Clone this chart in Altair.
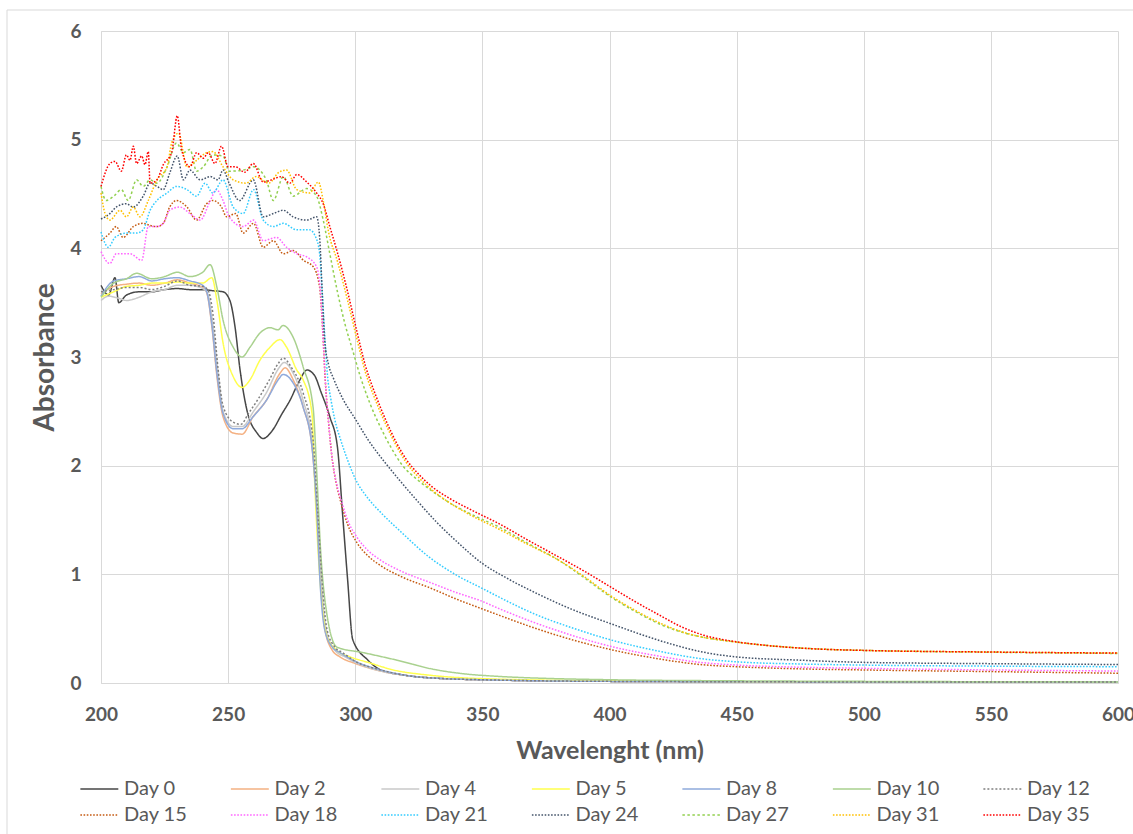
import altair as alt
import pandas as pd

# UV-Vis absorbance spectra, one list of (wavelength nm, absorbance) per sampling day
day_0 = [(200, 3.66), (203, 3.57), (205.5, 3.73), (207, 3.50), (210, 3.57), (215, 3.60), (220, 3.60),
         (225, 3.62), (230, 3.63), (235, 3.62), (240, 3.62), (244, 3.61), (248, 3.60), (250.7, 3.52),
         (252.7, 3.28), (254.7, 2.88), (257.4, 2.51), (261.4, 2.30), (263.7, 2.25), (267.6, 2.33),
         (271, 2.47), (274.3, 2.60), (278, 2.78), (281, 2.88), (284, 2.83), (286.5, 2.68), (290, 2.45),
         (293, 2.17), (295, 1.56), (297, 0.95), (299, 0.40), (305, 0.21), (310, 0.12), (320, 0.07),
         (335, 0.04), (350, 0.03), (400, 0.015), (500, 0.01), (600, 0.01)]
day_2 = [(200, 3.58), (205, 3.65), (210, 3.67), (215, 3.68), (220, 3.66), (225, 3.68), (230, 3.71),
         (235, 3.68), (240, 3.64), (241.6, 3.59), (243.6, 3.28), (245.6, 2.82), (248, 2.45), (252, 2.30),
         (255.5, 2.29), (259.8, 2.45), (265, 2.60), (270.4, 2.85), (272.4, 2.90), (275.6, 2.79),
         (279.5, 2.54), (283, 2.17), (285, 1.56), (286.5, 0.95), (288, 0.50), (291, 0.30), (294, 0.24),
         (300, 0.18), (310, 0.11), (320, 0.07), (335, 0.04), (350, 0.03), (400, 0.015), (500, 0.01), (600, 0.01)]
day_4 = [(200, 3.52), (203, 3.56), (207, 3.54), (210, 3.52), (215, 3.55), (220, 3.60), (225, 3.62),
         (230, 3.66), (235, 3.66), (240, 3.63), (242, 3.58), (244, 3.30), (246, 2.86), (248, 2.50),
         (252, 2.36), (255.5, 2.36), (260, 2.50), (265, 2.67), (270, 2.90), (272, 2.95), (275.6, 2.85),
         (279.5, 2.60), (283, 2.22), (285, 1.58), (286.5, 0.97), (288.5, 0.50), (292, 0.30), (296, 0.24),
         (300, 0.19), (310, 0.11), (320, 0.07), (335, 0.04), (350, 0.03), (400, 0.015), (500, 0.01), (600, 0.01)]
day_5 = [(200, 3.55), (205, 3.60), (210, 3.65), (215, 3.66), (220, 3.68), (225, 3.68), (230, 3.69),
         (235, 3.68), (240, 3.68), (243.6, 3.73), (245.6, 3.52), (248, 3.13), (252, 2.82), (255.5, 2.72),
         (258.6, 2.79), (262.5, 2.97), (266.5, 3.09), (270.4, 3.16), (273, 3.09), (277, 2.88),
         (279.5, 2.79), (283, 2.48), (284, 1.87), (285.3, 1.25), (287.3, 0.64), (289, 0.42), (292.8, 0.30),
         (298, 0.24), (305, 0.19), (315, 0.12), (330, 0.07), (350, 0.04), (400, 0.02), (500, 0.01), (600, 0.01)]
day_8 = [(200, 3.56), (205, 3.70), (210, 3.72), (215, 3.74), (220, 3.70), (225, 3.72), (230, 3.73),
         (235, 3.70), (240, 3.66), (241.6, 3.60), (243.6, 3.30), (245.6, 2.85), (248, 2.48), (252, 2.34),
         (255.5, 2.34), (259.8, 2.45), (265, 2.60), (270, 2.80), (271.6, 2.84), (275.6, 2.76),
         (279.5, 2.54), (283, 2.17), (284.9, 1.56), (286.1, 0.95), (288, 0.49), (291, 0.33), (294, 0.28),
         (300, 0.20), (310, 0.12), (320, 0.07), (335, 0.04), (350, 0.03), (400, 0.015), (500, 0.01), (600, 0.01)]
day_10 = [(200, 3.55), (205, 3.68), (210, 3.72), (214, 3.77), (220, 3.72), (225, 3.74), (230, 3.78),
          (235, 3.74), (240, 3.78), (242.9, 3.85), (245.6, 3.64), (248, 3.34), (252, 3.09), (255.5, 3.00),
          (258.6, 3.09), (262.5, 3.22), (266.5, 3.27), (269.6, 3.25), (271.6, 3.29), (275.6, 3.18),
          (279.5, 2.91), (283.4, 2.54), (285, 1.87), (286.3, 1.25), (288.8, 0.64), (292.8, 0.33),
          (303, 0.28), (316.4, 0.21), (330, 0.13), (350, 0.07), (400, 0.03), (450, 0.02), (500, 0.015), (600, 0.01)]
day_12 = [(200, 3.60), (205, 3.62), (210, 3.64), (215, 3.64), (220, 3.62), (225, 3.65), (230, 3.70),
          (235, 3.66), (240, 3.65), (242, 3.62), (244, 3.40), (246, 2.90), (248, 2.55), (252, 2.40),
          (255, 2.38), (258, 2.48), (262, 2.62), (266, 2.78), (270, 2.95), (271.6, 2.99), (275, 2.90),
          (279.5, 2.67), (283.4, 2.24), (285.3, 1.56), (286.9, 0.95), (288.9, 0.49), (292, 0.33),
          (295, 0.28), (300, 0.20), (310, 0.12), (320, 0.07), (335, 0.04), (350, 0.03), (400, 0.015), (500, 0.01), (600, 0.01)]
day_15 = [(200, 4.07), (203.5, 4.14), (206, 4.20), (208.7, 4.10), (212.7, 4.20), (216.6, 4.23), (219.3, 4.21),
          (222, 4.20), (224.5, 4.23), (227, 4.38), (229.7, 4.44), (233.8, 4.38), (237.6, 4.26), (241.5, 4.41),
          (244, 4.44), (247.4, 4.38), (249.4, 4.29), (253, 4.32), (255.9, 4.14), (260, 4.23), (263.8, 4.01),
          (267.8, 4.07), (271.7, 3.95), (275.6, 3.98), (279.6, 3.89), (283.5, 3.83), (286, 3.64), (287.2, 3.25),
          (288.2, 2.79), (289.5, 2.40), (291, 2.05), (292.5, 1.84), (294.5, 1.65), (297, 1.46), (300.7, 1.29),
          (305, 1.17), (310, 1.08), (318, 0.98), (330, 0.87), (340, 0.77), (349, 0.69), (357, 0.62),
          (370, 0.51), (385, 0.40), (400, 0.31), (420, 0.22), (435.6, 0.17), (450, 0.15), (475, 0.13),
          (500, 0.12), (550, 0.105), (600, 0.09)]
day_18 = [(200, 3.97), (203.5, 3.86), (206, 3.95), (211.4, 3.95), (216, 3.89), (218.6, 4.20), (222, 4.20),
          (224.5, 4.23), (227, 4.35), (231, 4.38), (235, 4.32), (239, 4.26), (243, 4.44), (245.4, 4.54),
          (248, 4.44), (250.4, 4.29), (255.9, 4.20), (260, 4.26), (263.8, 4.07), (269, 4.10), (273, 4.01),
          (277, 3.95), (281, 3.92), (284.8, 3.83), (286.3, 3.60), (287.3, 3.20), (288.2, 2.79), (289.5, 2.40),
          (291, 2.05), (292.5, 1.85), (294.5, 1.68), (297, 1.50), (300.7, 1.34), (305, 1.22), (310, 1.13),
          (318, 1.03), (330, 0.92), (340, 0.83), (349, 0.76), (357, 0.68), (370, 0.56), (385, 0.44),
          (400, 0.34), (420, 0.245), (435.6, 0.19), (450, 0.165), (475, 0.145), (500, 0.135), (550, 0.12), (600, 0.11)]
day_21 = [(200, 4.15), (202.9, 4.01), (205.5, 4.10), (210, 4.14), (214, 4.14), (216.6, 4.17), (219.3, 4.35),
          (222, 4.44), (226, 4.51), (229.7, 4.57), (233.8, 4.54), (237.6, 4.48), (240.9, 4.60), (244, 4.51),
          (248, 4.63), (252, 4.38), (255.9, 4.32), (260, 4.54), (263.8, 4.26), (267.8, 4.20), (271.7, 4.23),
          (277, 4.17), (282, 4.17), (284.5, 4.10), (286, 3.95), (287, 3.60), (288, 3.20), (289, 2.85),
          (290.5, 2.60), (292, 2.42), (294.5, 2.22), (297, 2.05), (300, 1.88), (305, 1.70), (310, 1.57),
          (318, 1.39), (329, 1.16), (340, 0.99), (350, 0.87), (360, 0.75), (370, 0.64), (385, 0.51),
          (400, 0.40), (420, 0.29), (435.6, 0.225), (450, 0.195), (475, 0.175), (500, 0.165), (550, 0.155), (600, 0.15)]
day_24 = [(200, 4.27), (203.5, 4.32), (206, 4.38), (210, 4.41), (212.7, 4.38), (216.6, 4.48), (219.3, 4.60),
          (222, 4.57), (224.5, 4.54), (227, 4.69), (230, 4.85), (232.4, 4.63), (235, 4.72), (239, 4.63),
          (243, 4.66), (246, 4.63), (248, 4.72), (250.4, 4.60), (254.5, 4.44), (259.9, 4.63), (263.8, 4.29),
          (267.8, 4.32), (271.7, 4.35), (275.6, 4.29), (280.9, 4.26), (284.8, 4.29), (286, 4.10), (287, 3.60),
          (288, 3.15), (289.5, 2.93), (291.5, 2.80), (295, 2.62), (300, 2.43), (305, 2.24), (312, 2.02),
          (318, 1.85), (325, 1.66), (332, 1.48), (340, 1.30), (350, 1.10), (360, 0.96), (370, 0.84),
          (385, 0.68), (400, 0.55), (422.6, 0.37), (435.6, 0.29), (450, 0.24), (475, 0.21), (500, 0.19),
          (550, 0.178), (600, 0.17)]
day_27 = [(200, 4.57), (202, 4.44), (205, 4.48), (208, 4.54), (210.7, 4.44), (214, 4.63), (216.6, 4.57),
          (219.3, 4.63), (222, 4.60), (226, 4.75), (229.7, 4.97), (232.4, 4.88), (235, 4.91), (237.6, 4.71),
          (240.2, 4.75), (244, 4.86), (248, 4.85), (250.4, 4.71), (255.9, 4.72), (260, 4.75), (265, 4.63),
          (267.8, 4.44), (271.7, 4.66), (275.6, 4.48), (280.9, 4.55), (284.8, 4.48), (287.4, 4.26), (290, 3.95),
          (293, 3.60), (296, 3.30), (299, 3.06), (302, 2.82), (306, 2.56), (310, 2.35), (314, 2.17), (318, 2.02),
          (325, 1.86), (330, 1.77), (337, 1.66), (345, 1.56), (357, 1.43), (367.5, 1.29), (380, 1.13),
          (390, 0.97), (400, 0.80), (410, 0.66), (420, 0.54), (428, 0.47), (437, 0.42), (447, 0.385),
          (460, 0.35), (480, 0.315), (500, 0.30), (550, 0.283), (600, 0.272)]
day_31 = [(200, 4.51), (201.6, 4.32), (203.5, 4.26), (207.5, 4.35), (210, 4.29), (212.7, 4.38), (215.3, 4.29),
          (218.6, 4.44), (222, 4.63), (226, 4.75), (227.8, 4.97), (230.5, 5.06), (233.8, 4.75), (237.6, 4.81),
          (241.5, 4.88), (244, 4.89), (248, 4.75), (252, 4.63), (257, 4.60), (261, 4.66), (266, 4.60),
          (270, 4.70), (273, 4.72), (277, 4.54), (282, 4.51), (285.5, 4.61), (287.4, 4.44), (289.5, 4.15),
          (293, 3.88), (297, 3.52), (300.5, 3.18), (304, 2.86), (308, 2.60), (312, 2.38), (316, 2.19),
          (320, 2.03), (325, 1.89), (330, 1.78), (337, 1.66), (345, 1.55), (357, 1.41), (367.5, 1.28),
          (380, 1.13), (390, 0.98), (400, 0.81), (410, 0.67), (420, 0.55), (428, 0.475), (437, 0.42),
          (447, 0.385), (460, 0.35), (480, 0.315), (500, 0.30), (550, 0.285), (600, 0.275)]
day_35 = [(200, 4.57), (203.5, 4.78), (205.5, 4.80), (208, 4.71), (210, 4.86), (211.4, 4.81), (212.7, 4.94),
          (214, 4.78), (216, 4.85), (217.3, 4.77), (218.6, 4.89), (219.3, 4.60), (222, 4.63), (224.5, 4.77),
          (227.8, 4.88), (230, 5.22), (231.7, 4.91), (235, 4.75), (237.6, 4.88), (240.2, 4.83), (242.2, 4.88),
          (244.8, 4.78), (247.4, 4.94), (250, 4.75), (253, 4.75), (256.5, 4.70), (259.9, 4.78), (263.8, 4.61),
          (267, 4.63), (271, 4.66), (274.3, 4.60), (277, 4.68), (280.9, 4.61), (284.8, 4.51), (287.4, 4.41),
          (290, 4.20), (293, 3.96), (297, 3.60), (300.5, 3.25), (304, 2.92), (308, 2.65), (312, 2.42),
          (316, 2.22), (320, 2.06), (325, 1.92), (330, 1.81), (337, 1.70), (345, 1.60), (357, 1.46),
          (367.5, 1.32), (380, 1.16), (390, 1.03), (400, 0.89), (410, 0.75), (420, 0.62), (428, 0.52),
          (437, 0.44), (447, 0.39), (460, 0.35), (480, 0.315), (500, 0.30), (550, 0.285), (600, 0.275)]

days = ["Day 0", "Day 2", "Day 4", "Day 5", "Day 8", "Day 10", "Day 12",
        "Day 15", "Day 18", "Day 21", "Day 24", "Day 27", "Day 31", "Day 35"]
spectra = [day_0, day_2, day_4, day_5, day_8, day_10, day_12,
           day_15, day_18, day_21, day_24, day_27, day_31, day_35]

colors = ["#474747", "#F4B183", "#C9C9C9", "#FFFF4D", "#8FAADC", "#A9D18E", "#7F7F7F",
          "#C55A11", "#FF66FF", "#33CCFF", "#44546A", "#92D050", "#FFC000", "#FF0000"]
solid = [1, 0]
dot = [1.6, 1.6]
dashes = [solid, solid, solid, solid, solid, solid, [2, 2],
          dot, dot, dot, dot, [2.5, 2.5], dot, dot]
widths = [1.5, 1.5, 1.5, 1.5, 1.5, 1.5, 2, 1.5, 1.5, 1.5, 1.5, 2.5, 1.5, 1.5]

x_ticks = [200, 250, 300, 350, 400, 450, 500, 550, 600]
y_ticks = [0, 1, 2, 3, 4, 5, 6]

rows = []
for name, pts in zip(days, spectra):
    for nm, a in pts:
        rows.append({"day": name, "nm": nm, "absorbance": a})
df = pd.DataFrame(rows)

text_grey = "#595959"
grid_grey = "#D9D9D9"
font = "Lato"

# legend key: a short horizontal stroke that reaches left of its layout box, so rows stay compact
legend = alt.Legend(
    title=None,
    orient="none",
    legendX=1,
    legendY=748,
    direction="horizontal",
    columns=7,
    symbolType="M-5,0L1,0",
    symbolSize=160,
    symbolStrokeWidth=2,
    labelFont=font,
    labelFontSize=20,
    labelColor=text_grey,
    labelOffset=2,
    columnPadding=39.5,
    rowPadding=6,
    gridAlign="all",
    padding=0,
)

lines = alt.Chart(df).mark_line(interpolate="monotone").encode(
    x=alt.X("nm:Q", scale=alt.Scale(domain=[200, 600], nice=False),
            axis=alt.Axis(values=x_ticks, title="Wavelenght (nm)", format="d", labelFlush=False)),
    y=alt.Y("absorbance:Q", scale=alt.Scale(domain=[0, 6], nice=False),
            axis=alt.Axis(values=y_ticks, title="Absorbance", format="d")),
    color=alt.Color("day:N", scale=alt.Scale(domain=days, range=colors), legend=legend),
    strokeDash=alt.StrokeDash("day:N", scale=alt.Scale(domain=days, range=dashes), legend=legend),
    strokeWidth=alt.StrokeWidth("day:N", scale=alt.Scale(domain=days, range=widths), legend=None),
)

# light chart-area frame around everything
frame = alt.Chart(pd.DataFrame({"k": [0]})).mark_rect(
    fill=None, stroke=grid_grey, strokeWidth=1
).encode(
    x=alt.value(-94), x2=alt.value(1040), y=alt.value(-21), y2=alt.value(820)
)

chart = alt.layer(frame, lines).properties(
    width=1017,
    height=652,
    autosize=alt.AutoSizeParams(type="none"),
    padding={"left": 101, "top": 31, "right": 15, "bottom": 151},
    background="white",
).configure_view(
    stroke=None,
).configure_axis(
    grid=True,
    gridColor=grid_grey,
    gridWidth=1,
    domainColor=grid_grey,
    domainWidth=1,
    ticks=False,
    labelFont=font,
    labelFontSize=19,
    labelFontWeight="bold",
    labelColor=text_grey,
    titleFont=font,
    titleFontWeight="bold",
    titleColor=text_grey,
).configure_axisX(
    labelPadding=22,
    titleFontSize=25,
    titlePadding=14,
).configure_axisY(
    labelPadding=20,
    titleFontSize=28,
    titlePadding=10,
)

chart.save("out.html", embed_options={"renderer": "svg", "actions": False})
